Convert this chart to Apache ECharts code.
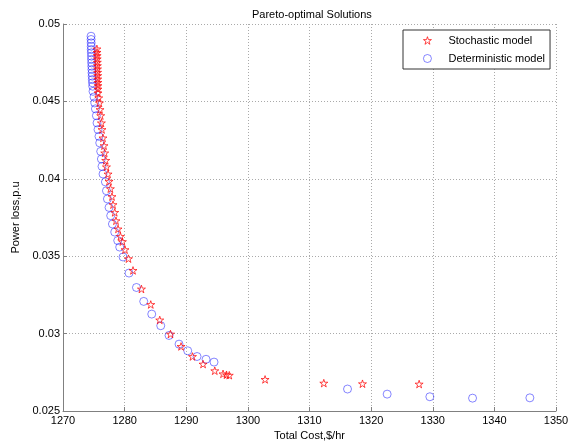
<!DOCTYPE html>
<html><head><meta charset="utf-8">
<script src="https://cdn.jsdelivr.net/npm/echarts@6/dist/echarts.min.js"></script>
<style>html,body{margin:0;padding:0;background:#fff}#c{width:573px;height:443px}</style>
</head><body><div id="c"></div>
<script>
var titleText = 'Pareto-optimal Solutions';
var xName = 'Total Cost,$/hr';
var yName = 'Power loss,p.u';
var seriesNames = ['Stochastic model', 'Deterministic model'];

var stochX = [1275.50,1275.52,1275.54,1275.55,1275.57,1275.58,1275.60,1275.61,1275.63,1275.64,1275.66,1275.67,1275.67,
  1275.68,1275.80,1275.91,1276.01,1276.12,1276.23,1276.33,1276.49,1276.66,1276.77,1276.93,1277.05,
  1277.31,1277.47,1277.69,1277.95,1278.12,1278.39,1278.60,1278.93,1279.32,1279.64,
  1280.06,1280.62,1281.36,1282.73,1284.24,1285.70,1287.44,1289.16,1291.01,1292.73,1294.63,1295.97,1296.53,1296.98,
  1302.79,1312.32,1318.60,1327.79];
var stochY = [0.04839,0.04817,0.04796,0.04775,0.04753,0.04731,0.04710,0.04688,0.04667,0.04645,0.04623,0.04602,0.04580,
  0.04555,0.04523,0.04490,0.04447,0.04408,0.04361,0.04318,0.04264,0.04214,0.04167,0.04119,0.04077,
  0.04031,0.03984,0.03936,0.03885,0.03833,0.03783,0.03729,0.03676,0.03628,0.03594,
  0.03542,0.03484,0.03408,0.03288,0.03188,0.03088,0.02997,0.02917,0.02852,0.02803,0.02760,0.02740,0.02734,0.02731,
  0.02704,0.02680,0.02676,0.02674];

var detX = [1274.55,1274.56,1274.57,1274.58,1274.59,1274.60,1274.62,1274.63,1274.65,1274.67,1274.69,1274.71,1274.73,1274.76,1274.79,1274.82,
  1274.87,1275.03,1275.15,1275.26,1275.42,1275.52,1275.68,1275.84,1275.96,1276.12,1276.23,1276.33,
  1276.49,1276.88,1277.05,1277.21,1277.47,1277.74,1278.02,1278.39,1278.88,
  1279.20,1279.74,1280.71,1281.92,1283.10,1284.40,1285.86,1287.21,1288.83,1290.24,1291.75,1293.21,1294.51,
  1316.17,1322.60,1329.53,1336.46,1345.76];
var detY = [0.04921,0.04900,0.04878,0.04856,0.04835,0.04814,0.04792,0.04771,0.04749,0.04727,0.04706,0.04684,0.04663,0.04641,0.04620,0.04598,
  0.04565,0.04529,0.04490,0.04452,0.04408,0.04361,0.04318,0.04274,0.04232,0.04177,0.04128,0.04080,
  0.04031,0.03980,0.03923,0.03870,0.03815,0.03762,0.03708,0.03656,0.03601,
  0.03559,0.03495,0.03391,0.03298,0.03208,0.03126,0.03051,0.02988,0.02932,0.02889,0.02852,0.02834,0.02816,
  0.02642,0.02609,0.02592,0.02583,0.02585];

function zip(a, b) { return a.map(function (v, i) { return [v, b[i]]; }); }

var starPath = 'path://M50,0L61.2,34.5L97.6,34.5L68.2,55.9L79.4,90.5L50,69.1L20.6,90.5L31.8,55.9L2.4,34.5L38.8,34.5Z';
var font = 'Liberation Sans, Arial, sans-serif';
var red = '#ff0000', blue = 'rgba(0,0,255,0.75)';

var chart = echarts.init(document.getElementById('c'), null, {renderer: 'canvas'});
chart.setOption({
  animation: false,
  backgroundColor: '#ffffff',
  title: {
    text: titleText, left: 247, top: 4,
    textStyle: {fontFamily: font, fontSize: 11, fontWeight: 'normal', color: '#000'}
  },
  legend: {
    orient: 'vertical', left: 403, top: 30,
    padding: [5, 5, 5, 20], itemGap: 7, itemWidth: 8, itemHeight: 8,
    borderColor: '#333', borderWidth: 1, borderRadius: 0, backgroundColor: '#fff',
    textStyle: {fontFamily: font, fontSize: 11, color: '#000', padding: [0, 0, 0, 12]},
    data: [
      {name: seriesNames[0], icon: starPath,
        itemStyle: {color: 'rgba(0,0,0,0)', borderColor: red, borderWidth: 0.9}},
      {name: seriesNames[1], icon: 'circle',
        itemStyle: {color: 'rgba(0,0,0,0)', borderColor: blue, borderWidth: 0.8}}
    ]
  },
  grid: {left: 63, right: 17, top: 24, bottom: 32, containLabel: false, outerBoundsMode: 'none'},
  xAxis: {
    type: 'value', min: 1270, max: 1350, interval: 10,
    name: xName, nameLocation: 'middle', nameGap: 16,
    nameTextStyle: {fontFamily: font, fontSize: 11, color: '#000'},
    axisLine: {show: true, lineStyle: {color: '#808080', width: 1}},
    axisTick: {show: true, inside: true, length: 4, lineStyle: {color: '#808080'}},
    axisLabel: {fontFamily: font, fontSize: 11, color: '#000', margin: 4,
      formatter: function (v) { return String(v); }},
    splitLine: {show: true, lineStyle: {color: '#aaaaaa', type: [1, 2], width: 1}}
  },
  yAxis: {
    type: 'value', min: 0.025, max: 0.05, interval: 0.005,
    name: yName, nameLocation: 'middle', nameGap: 37,
    nameTextStyle: {fontFamily: font, fontSize: 11, color: '#000'},
    axisLine: {show: true, lineStyle: {color: '#808080', width: 1}},
    axisTick: {show: true, inside: true, length: 4, lineStyle: {color: '#808080'}},
    axisLabel: {fontFamily: font, fontSize: 11, color: '#000', margin: 3,
      formatter: function (v) { return String(+v.toFixed(4)); }},
    splitLine: {show: true, lineStyle: {color: '#aaaaaa', type: [1, 2], width: 1}}
  },
  series: [
    {
      name: seriesNames[0], type: 'scatter', data: zip(stochX, stochY),
      symbol: starPath, symbolSize: 8, symbolKeepAspect: true,
      itemStyle: {color: 'rgba(0,0,0,0)', borderColor: red, borderWidth: 0.9}, z: 3
    },
    {
      name: seriesNames[1], type: 'scatter', data: zip(detX, detY),
      symbol: 'circle', symbolSize: 8,
      itemStyle: {color: 'rgba(0,0,0,0)', borderColor: blue, borderWidth: 0.8}, z: 2
    }
  ]
});
</script></body></html>
